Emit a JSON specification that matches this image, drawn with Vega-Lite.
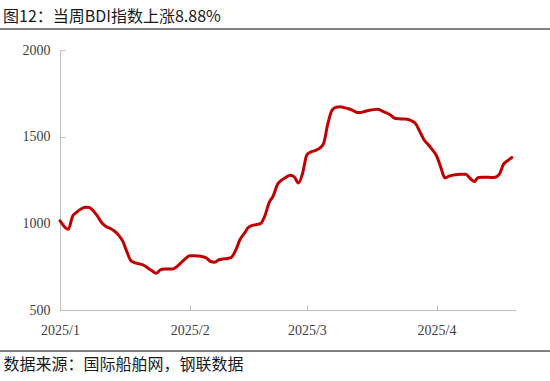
{
  "$schema": "https://vega.github.io/schema/vega-lite/v6.json",
  "width": 456,
  "height": 260,
  "autosize": {"type": "none"},
  "padding": {"left": 60, "top": 50, "right": 34, "bottom": 71},
  "background": "#ffffff",
  "config": {"view": {"stroke": null}},
  "title": {
    "text": "图12：当周BDI指数上涨8.88%",
    "anchor": "start",
    "frame": "group",
    "dx": -57,
    "offset": 4,
    "font": "Noto Sans CJK SC",
    "fontSize": 16,
    "fontWeight": "normal",
    "color": "#1a1a1a"
  },
  "data": {
    "values": [
      {"date": "2025/01/01", "bdi": 1015}, {"date": "2025/01/02", "bdi": 982}, {"date": "2025/01/03", "bdi": 966},
      {"date": "2025/01/04", "bdi": 1040}, {"date": "2025/01/05", "bdi": 1065}, {"date": "2025/01/06", "bdi": 1083},
      {"date": "2025/01/07", "bdi": 1093}, {"date": "2025/01/08", "bdi": 1091}, {"date": "2025/01/09", "bdi": 1071},
      {"date": "2025/01/10", "bdi": 1040}, {"date": "2025/01/11", "bdi": 1003}, {"date": "2025/01/12", "bdi": 982},
      {"date": "2025/01/13", "bdi": 971}, {"date": "2025/01/14", "bdi": 956}, {"date": "2025/01/15", "bdi": 932},
      {"date": "2025/01/16", "bdi": 897}, {"date": "2025/01/17", "bdi": 835}, {"date": "2025/01/18", "bdi": 783},
      {"date": "2025/01/19", "bdi": 772}, {"date": "2025/01/20", "bdi": 766}, {"date": "2025/01/21", "bdi": 758},
      {"date": "2025/01/22", "bdi": 742}, {"date": "2025/01/23", "bdi": 726}, {"date": "2025/01/24", "bdi": 712},
      {"date": "2025/01/25", "bdi": 731}, {"date": "2025/01/26", "bdi": 736}, {"date": "2025/01/27", "bdi": 737},
      {"date": "2025/01/28", "bdi": 737}, {"date": "2025/01/29", "bdi": 752}, {"date": "2025/01/30", "bdi": 774},
      {"date": "2025/01/31", "bdi": 796},
      {"date": "2025/02/01", "bdi": 813}, {"date": "2025/02/02", "bdi": 813}, {"date": "2025/02/03", "bdi": 812},
      {"date": "2025/02/04", "bdi": 808}, {"date": "2025/02/05", "bdi": 800}, {"date": "2025/02/06", "bdi": 780},
      {"date": "2025/02/07", "bdi": 776}, {"date": "2025/02/08", "bdi": 790}, {"date": "2025/02/09", "bdi": 794},
      {"date": "2025/02/10", "bdi": 797}, {"date": "2025/02/11", "bdi": 805}, {"date": "2025/02/12", "bdi": 845},
      {"date": "2025/02/13", "bdi": 905}, {"date": "2025/02/14", "bdi": 940}, {"date": "2025/02/15", "bdi": 976},
      {"date": "2025/02/16", "bdi": 988}, {"date": "2025/02/17", "bdi": 993}, {"date": "2025/02/18", "bdi": 1000},
      {"date": "2025/02/19", "bdi": 1045}, {"date": "2025/02/20", "bdi": 1120}, {"date": "2025/02/21", "bdi": 1160},
      {"date": "2025/02/22", "bdi": 1225}, {"date": "2025/02/23", "bdi": 1250}, {"date": "2025/02/24", "bdi": 1265},
      {"date": "2025/02/25", "bdi": 1278}, {"date": "2025/02/26", "bdi": 1268}, {"date": "2025/02/27", "bdi": 1233},
      {"date": "2025/02/28", "bdi": 1290},
      {"date": "2025/03/01", "bdi": 1395}, {"date": "2025/03/02", "bdi": 1412}, {"date": "2025/03/03", "bdi": 1420},
      {"date": "2025/03/04", "bdi": 1432}, {"date": "2025/03/05", "bdi": 1460}, {"date": "2025/03/06", "bdi": 1572},
      {"date": "2025/03/07", "bdi": 1652}, {"date": "2025/03/08", "bdi": 1670}, {"date": "2025/03/09", "bdi": 1672},
      {"date": "2025/03/10", "bdi": 1667}, {"date": "2025/03/11", "bdi": 1661}, {"date": "2025/03/12", "bdi": 1652},
      {"date": "2025/03/13", "bdi": 1640}, {"date": "2025/03/14", "bdi": 1640}, {"date": "2025/03/15", "bdi": 1647},
      {"date": "2025/03/16", "bdi": 1652}, {"date": "2025/03/17", "bdi": 1656}, {"date": "2025/03/18", "bdi": 1658},
      {"date": "2025/03/19", "bdi": 1648}, {"date": "2025/03/20", "bdi": 1638}, {"date": "2025/03/21", "bdi": 1625},
      {"date": "2025/03/22", "bdi": 1606}, {"date": "2025/03/23", "bdi": 1603}, {"date": "2025/03/24", "bdi": 1602},
      {"date": "2025/03/25", "bdi": 1601}, {"date": "2025/03/26", "bdi": 1592}, {"date": "2025/03/27", "bdi": 1575},
      {"date": "2025/03/28", "bdi": 1530}, {"date": "2025/03/29", "bdi": 1482}, {"date": "2025/03/30", "bdi": 1455},
      {"date": "2025/03/31", "bdi": 1425},
      {"date": "2025/04/01", "bdi": 1390}, {"date": "2025/04/02", "bdi": 1325}, {"date": "2025/04/03", "bdi": 1262},
      {"date": "2025/04/04", "bdi": 1272}, {"date": "2025/04/05", "bdi": 1278}, {"date": "2025/04/06", "bdi": 1282},
      {"date": "2025/04/07", "bdi": 1283}, {"date": "2025/04/08", "bdi": 1283}, {"date": "2025/04/09", "bdi": 1260},
      {"date": "2025/04/10", "bdi": 1242}, {"date": "2025/04/11", "bdi": 1264}, {"date": "2025/04/12", "bdi": 1266},
      {"date": "2025/04/13", "bdi": 1266}, {"date": "2025/04/14", "bdi": 1265}, {"date": "2025/04/15", "bdi": 1266},
      {"date": "2025/04/16", "bdi": 1282}, {"date": "2025/04/17", "bdi": 1340}, {"date": "2025/04/18", "bdi": 1362},
      {"date": "2025/04/19", "bdi": 1380}
    ]
  },
  "layer": [
    {
      "mark": {"type": "line", "color": "#c00000", "strokeWidth": 3, "interpolate": "monotone", "strokeCap": "round", "strokeJoin": "round"},
      "encoding": {
        "x": {
          "field": "date",
          "type": "temporal",
          "scale": {
            "domain": [{"year": 2025, "month": 1, "date": 1}, {"year": 2025, "month": 4, "date": 20}],
            "nice": false
          },
          "axis": {
            "tickCount": {"interval": "month", "step": 1},
            "format": "%Y/%-m",
            "labelFlush": false,
            "labelOverlap": false,
            "grid": false,
            "domainColor": "#bfbfbf",
            "tickColor": "#bfbfbf",
            "tickSize": -5,
            "labelPadding": 18,
            "labelFont": "Liberation Serif",
            "labelFontSize": 14,
            "labelColor": "#404040",
            "title": "数据来源：国际船舶网，钢联数据",
            "titleFont": "Noto Sans CJK SC",
            "titleFontSize": 16,
            "titleFontWeight": "normal",
            "titleColor": "#1a1a1a",
            "titleAnchor": "start",
            "titleAlign": "left",
            "titleBaseline": "middle",
            "titleX": -57,
            "titleY": 54
          }
        },
        "y": {
          "field": "bdi",
          "type": "quantitative",
          "scale": {"domain": [500, 2000], "nice": false, "zero": false},
          "axis": {
            "values": [500, 1000, 1500, 2000],
            "format": "d",
            "grid": false,
            "domainColor": "#bfbfbf",
            "tickColor": "#bfbfbf",
            "tickSize": -5,
            "labelPadding": 15,
            "labelFont": "Liberation Serif",
            "labelFontSize": 14,
            "labelColor": "#404040",
            "title": null
          }
        }
      }
    },
    {
      "mark": {"type": "rule", "color": "#808080", "strokeWidth": 1.5, "clip": false},
      "encoding": {
        "x": {"datum": {"year": 2024, "month": 12, "date": 16}, "type": "temporal"},
        "x2": {"datum": {"year": 2025, "month": 4, "date": 30}},
        "y": {"datum": 2119, "type": "quantitative"}
      }
    },
    {
      "mark": {"type": "rule", "color": "#808080", "strokeWidth": 1.5, "clip": false},
      "encoding": {
        "x": {"datum": {"year": 2024, "month": 12, "date": 16}, "type": "temporal"},
        "x2": {"datum": {"year": 2025, "month": 4, "date": 30}},
        "y": {"datum": 263, "type": "quantitative"}
      }
    }
  ]
}
